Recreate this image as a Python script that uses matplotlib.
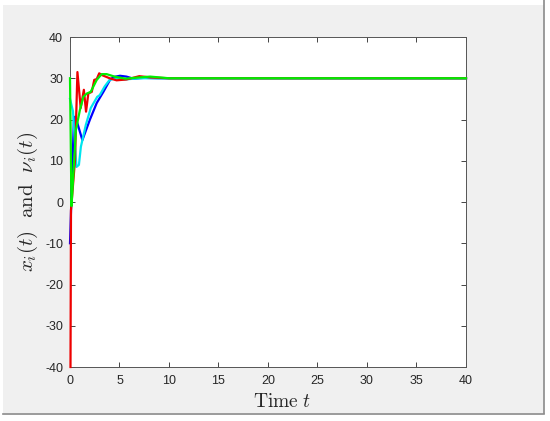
import matplotlib
matplotlib.use("Agg")
import matplotlib.pyplot as plt
from matplotlib.patches import Rectangle
from matplotlib.lines import Line2D

plt.rcParams['mathtext.fontset'] = 'cm'
plt.rcParams['font.family'] = ['Liberation Sans', 'DejaVu Sans']
plt.rcParams['axes.unicode_minus'] = False

# Data
t_blue = [0, 0.4, 0.55, 1.25, 2.0, 2.7, 3.37, 4.04, 4.4, 5.05, 5.7, 6.4, 7.5, 9, 40]
v_blue = [-10, 20.5, 20.7, 15, 19.9, 24, 26.7, 29.6, 30.3, 30.6, 30.4, 29.9, 30.1, 30, 30]

t_cyan = [0, 0.3, 0.65, 0.9, 1.1, 1.6, 2.1, 2.75, 3.0, 3.5, 4.0, 4.7, 5.5, 7, 40]
v_cyan = [25, 22, 8.5, 9, 13.4, 18.7, 22.8, 25.5, 25.9, 28, 29.6, 30, 29.7, 30, 30]

t_red = [0.05, 0.1, 0.5, 0.75, 1.08, 1.4, 1.62, 1.85, 2.2, 2.45, 2.7, 2.95, 3.2, 4.0, 4.7, 5.7, 7.0, 8.1, 10, 40]
v_red = [-40, -2, 10, 31.5, 22.8, 27.2, 21.9, 26.3, 26.7, 29.6, 29.8, 31.2, 30.8, 30, 29.5, 29.7, 30.5, 30.2, 30, 30]

t_green = [0, 0.15, 0.3, 0.6, 1.0, 1.35, 1.7, 2.09, 2.7, 3.2, 3.7, 4.5, 5.6, 7.0, 8.1, 10, 40]
v_green = [30, -1, 5, 17.5, 22.3, 25.5, 26.3, 26.7, 29.6, 31, 31, 30.4, 29.9, 30.2, 30.4, 30, 30]

x_ticks = [0, 5, 10, 15, 20, 25, 30, 35, 40]
y_ticks = [-40, -30, -20, -10, 0, 10, 20, 30, 40]

W, H = 550, 421
fig = plt.figure(figsize=(5.5, 4.21), dpi=100, facecolor='white')

# gray MATLAB-like window background
px = lambda x: x / W
py = lambda y: 1 - y / H
fig.patches.append(Rectangle((px(3), py(413)), px(541), 408 / H, transform=fig.transFigure,
                             facecolor='#f0f0f0', edgecolor='none', zorder=-10))
fig.lines.append(Line2D([px(544), px(544)], [py(413), py(0)], transform=fig.transFigure,
                        color='#8a8a8a', lw=1.2))
fig.lines.append(Line2D([px(3), px(544)], [py(413.5), py(413.5)], transform=fig.transFigure,
                        color='#8a8a8a', lw=1.2))

ax = fig.add_axes([70 / W, 1 - 367 / H, 396 / W, 330 / H])
ax.set_facecolor('white')

lw = 1.6
for t, v, c in [(t_blue, v_blue, '#0000ff'), (t_cyan, v_cyan, '#00e5ee'),
                (t_red, v_red, '#ee0000'), (t_green, v_green, '#00ee00')]:
    ax.plot(t, v, color=c, lw=lw, zorder=3, clip_on=False)

ax.set_xlim(0, 40)
ax.set_ylim(-40, 40)
ax.set_xticks(x_ticks)
ax.set_yticks(y_ticks)
ax.tick_params(direction='in', length=3.5, width=0.6, top=True, right=True,
               labelsize=9, colors='#262626', pad=5)
ax.tick_params(axis='x', pad=6)
for s in ax.spines.values():
    s.set_color('#555555')
    s.set_linewidth(0.7)

ax.set_xlabel(r'$\mathrm{Time}\ t$', fontsize=14, color='#262626')
ax.set_ylabel(r'$x_i(t)\ \ \mathrm{and}\ \ \nu_i(t)$', fontsize=15, color='#262626')
ax.xaxis.set_label_coords((282 - 70) / 396, -(402 - 367) / 330, transform=ax.transAxes)
ax.xaxis.label.set_va('center')
ax.yaxis.set_label_coords(-(70 - 28) / 396, 0.5, transform=ax.transAxes)
ax.yaxis.label.set_va('center')

fig.savefig('out.png', dpi=100)
